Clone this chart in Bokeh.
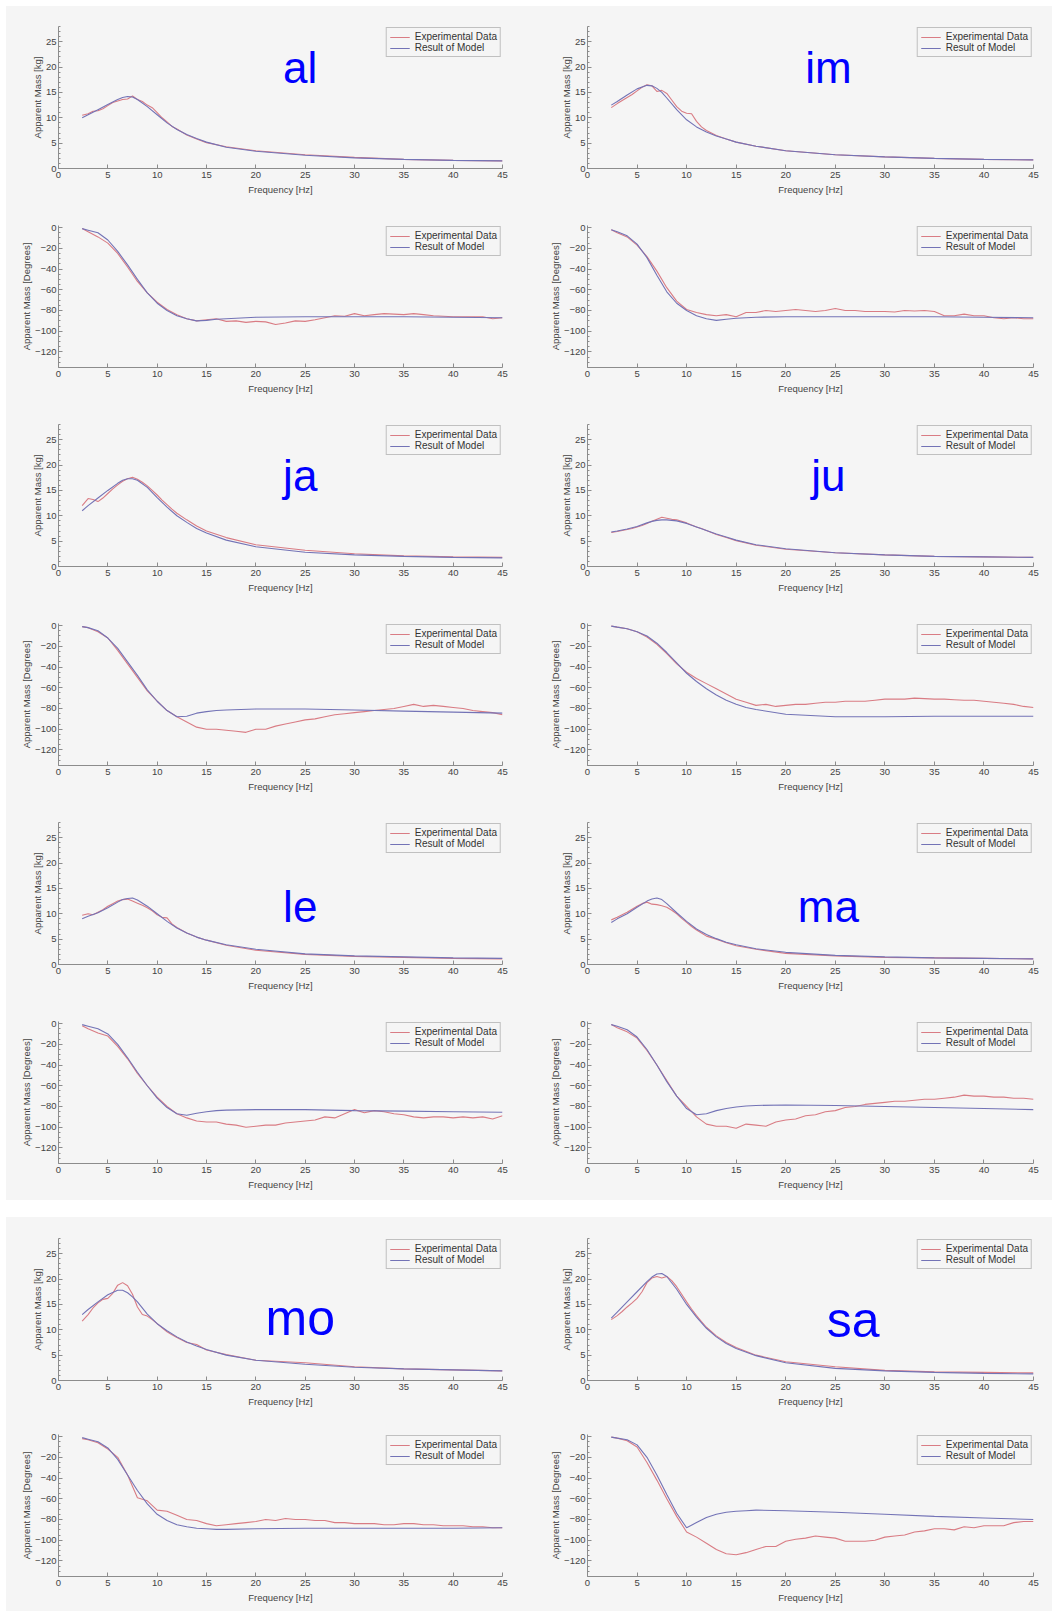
from bokeh.plotting import figure
from bokeh.models import Range1d, FixedTicker, Label, Legend, LegendItem, Spacer
from bokeh.layouts import column, row
from bokeh.embed import file_html
from bokeh.resources import INLINE

# ---------------- data ----------------
SUBJECTS = ["al", "im", "ja", "ju", "le", "ma", "mo", "sa"]

X_TICKS = [0, 5, 10, 15, 20, 25, 30, 35, 40, 45]
MAG_TICKS = [0, 5, 10, 15, 20, 25]
PHASE_TICKS = [-120, -100, -80, -60, -40, -20, 0]

MAG_MODEL_F = [2.4, 3, 4, 5, 6, 6.5, 7, 7.5, 8, 9, 10, 11, 12, 13, 14, 15, 17, 20, 25, 30, 35, 40, 45]
MAG_EXP_F = [2.4, 3, 3.5, 4, 4.5, 5, 5.5, 6, 6.5, 7, 7.5, 8, 8.5, 9, 9.5, 10, 10.5, 11, 11.5, 12,
             13, 14, 15, 17, 20, 25, 30, 35, 40, 45]
PH_MODEL_F = [2.4, 3, 4, 5, 6, 7, 8, 9, 10, 11, 12, 13, 14, 15, 16, 17, 20, 25, 30, 35, 40, 45]
PH_EXP_F = [2.4, 3, 4, 5, 6, 7, 8, 9, 10, 11, 12, 13, 14, 15, 16, 17, 18, 19, 20, 21, 22, 23, 24,
            25, 26, 27, 28, 29, 30, 31, 32, 33, 34, 35, 36, 37, 38, 39, 40, 41, 42, 43, 44, 45]

# magnitude, model
al_mag_model = [10, 10.6, 11.6, 12.6, 13.6, 14, 14.2, 14.1, 13.6, 12.2, 10.6, 9, 7.7, 6.7, 5.9, 5.2, 4.2, 3.4, 2.6, 2.1, 1.8, 1.6, 1.5]
im_mag_model = [12.5, 13.2, 14.5, 15.7, 16.4, 16.3, 15.8, 15, 13.9, 11.6, 9.6, 8.2, 7.2, 6.4, 5.8, 5.2, 4.4, 3.5, 2.7, 2.3, 2.0, 1.8, 1.7]
ja_mag_model = [11, 12, 13.5, 15, 16.4, 17, 17.3, 17.3, 17, 15.6, 13.6, 11.7, 10, 8.7, 7.5, 6.6, 5.2, 3.9, 2.8, 2.3, 2.0, 1.8, 1.7]
ju_mag_model = [6.8, 7, 7.4, 7.9, 8.6, 8.9, 9.1, 9.2, 9.2, 9.0, 8.5, 7.8, 7.1, 6.4, 5.8, 5.2, 4.3, 3.5, 2.7, 2.3, 2.0, 1.9, 1.8]
le_mag_model = [9, 9.5, 10.2, 11.2, 12.3, 12.8, 13, 13.1, 12.7, 11.5, 10, 8.5, 7.2, 6.2, 5.4, 4.8, 3.9, 3.0, 2.1, 1.7, 1.5, 1.3, 1.2]
ma_mag_model = [8.3, 9, 10, 11.3, 12.5, 12.9, 13.1, 12.8, 12, 10.2, 8.5, 7, 5.9, 5.1, 4.4, 3.9, 3.1, 2.4, 1.8, 1.5, 1.3, 1.2, 1.1]
mo_mag_model = [13, 14, 15.5, 16.9, 17.8, 17.8, 17.3, 16.5, 15.5, 13.1, 11.2, 9.8, 8.6, 7.6, 6.8, 6.1, 5, 4, 3.2, 2.6, 2.3, 2.1, 1.9]
sa_mag_model = [12.3, 13.5, 15.5, 17.5, 19.5, 20.4, 21, 21.1, 20.5, 18, 15, 12.5, 10.3, 8.6, 7.3, 6.3, 4.9, 3.5, 2.4, 1.9, 1.6, 1.4, 1.3]

# magnitude, experimental
al_mag_exp = [10.5, 10.8, 11.3, 11.4, 11.8, 12.4, 13, 13.3, 13.6, 13.7, 14.3, 13.6, 13.2, 12.5, 12, 11, 10, 9.2, 8.3, 7.8, 6.6, 5.8, 5.1, 4.3, 3.5, 2.7, 2.2, 1.8, 1.6, 1.5]
im_mag_exp = [12, 12.8, 13.4, 14, 14.6, 15.3, 16, 16.5, 16.3, 15.2, 15.4, 14.8, 13.5, 12.2, 11.3, 10.9, 10.8, 9.3, 8.2, 7.5, 6.5, 5.8, 5.2, 4.4, 3.5, 2.7, 2.3, 2.0, 1.8, 1.7]
ja_mag_exp = [12, 13.4, 13.2, 12.8, 13.5, 14.4, 15.3, 16.1, 16.8, 17.3, 17.6, 17.2, 16.6, 15.9, 15, 14.1, 13.1, 12.2, 11.3, 10.5, 9.2, 8, 7, 5.7, 4.3, 3.2, 2.5, 2.1, 1.9, 1.8]
ju_mag_exp = [6.7, 6.9, 7.1, 7.3, 7.5, 7.8, 8.1, 8.5, 8.9, 9.3, 9.7, 9.5, 9.3, 9.2, 8.9, 8.6, 8.2, 7.8, 7.5, 7.1, 6.3, 5.7, 5.1, 4.2, 3.4, 2.7, 2.3, 2.0, 1.9, 1.8]
le_mag_exp = [9.7, 10, 9.8, 10.3, 10.8, 11.5, 12, 12.5, 12.8, 12.9, 12.5, 12.1, 11.7, 11.2, 10.6, 9.8, 9.3, 9.2, 8.0, 7.3, 6.2, 5.4, 4.8, 3.8, 2.8, 2.0, 1.6, 1.4, 1.2, 1.1]
ma_mag_exp = [8.8, 9.3, 9.8, 10.3, 10.9, 11.5, 12, 12.3, 11.9, 11.8, 11.6, 11.3, 10.7, 10, 9.1, 8.3, 7.5, 6.8, 6.2, 5.6, 5.0, 4.3, 3.7, 3.0, 2.2, 1.7, 1.4, 1.3, 1.2, 1.1]
mo_mag_exp = [11.7, 13, 14.3, 15.3, 16, 16.2, 17.2, 18.8, 19.3, 18.7, 17, 14.5, 13, 12.7, 12, 11.2, 10.4, 9.6, 9.0, 8.5, 7.5, 7.1, 6, 5.1, 4.0, 3.5, 2.7, 2.3, 2.1, 1.9]
sa_mag_exp = [12, 12.8, 13.6, 14.5, 15.3, 16.2, 17.5, 19.3, 20.2, 20.5, 20.2, 20.5, 19.7, 18.5, 17, 15.5, 14.1, 12.8, 11.6, 10.5, 8.8, 7.5, 6.5, 5.0, 3.7, 2.7, 2.0, 1.7, 1.6, 1.5]

# phase, model
al_phase_model = [-1, -2.5, -5, -12, -23, -36, -50, -63, -73, -80, -85, -88, -90, -89.5, -88.5, -88, -86.5, -86, -86, -86, -86.5, -87]
im_phase_model = [-2, -4, -8, -16, -29, -46, -62, -73, -80, -85, -88, -89.5, -88.5, -87.5, -87, -86.5, -86, -86, -86, -86, -86.5, -87]
ja_phase_model = [-1, -2, -5, -12, -22, -35, -48, -62, -73, -82, -88, -87.5, -84.5, -83, -82, -81.5, -80.5, -80.5, -81.5, -82.5, -83.5, -84.5]
ju_phase_model = [-0.5, -1.5, -3, -6, -10, -17, -26, -36, -46, -54, -61, -67, -72, -76, -79, -81, -85.5, -88, -88, -87.5, -87.5, -87.5]
le_phase_model = [-1, -2.5, -5, -10, -20, -33, -47, -60, -72, -81, -87, -88.5, -86.5, -85, -84, -83.5, -83, -83, -84, -84.5, -85, -85.5]
ma_phase_model = [-1, -2.5, -6, -13, -25, -40, -56, -70, -82, -88, -87, -84, -82, -80.5, -79.5, -79, -78.5, -79, -80, -81, -82, -83]
mo_phase_model = [-1, -2.5, -5, -11, -22, -37, -52, -65, -75, -81, -85, -87, -88.5, -89, -89.5, -89.5, -89, -88.5, -88.5, -88.5, -88.5, -88]
sa_phase_model = [-0.5, -1.5, -3, -8, -20, -37, -56, -74, -88, -83, -78, -75, -73, -72, -71.5, -71, -71.5, -73, -75, -77, -78.5, -80]

# phase, experimental
al_phase_exp = [-1, -4, -9, -15, -25, -38, -52, -63, -72, -79, -84, -88, -90, -89, -88, -90.5, -90, -91.5, -90.5, -91, -93.5, -92, -90, -90.5, -89, -87, -85, -85.5, -83, -85, -84, -83, -83.5, -84, -83, -84, -85, -85.5, -86, -86, -86, -86, -88, -87]
im_phase_exp = [-2, -5, -9, -17, -28, -42, -58, -71, -79, -82, -84, -85, -84, -86, -82, -82, -80, -81, -80, -79, -80, -81, -80, -78, -80, -80, -81, -81, -81, -81.5, -80, -80.5, -80, -81, -85, -85, -83.5, -85, -85, -87, -88, -87, -88, -88]
ja_phase_exp = [-1, -2, -6, -12, -24, -37, -50, -63, -73, -82, -88, -93, -98, -100, -100, -101, -102, -103, -100, -100, -97, -95, -93, -91, -90, -88, -86, -85, -84, -83, -82, -81, -80, -78, -76, -78, -77, -78, -79, -80, -82, -83, -84, -86]
ju_phase_exp = [-0.5, -1.5, -3, -6, -11, -18, -27, -37, -45, -51, -56, -61, -66, -71, -74, -77, -76, -78, -77, -76, -76, -75, -74, -74, -73, -73, -73, -72, -71, -71, -71, -70, -70.5, -71, -71, -71.5, -72, -72, -73, -74, -75, -76, -78, -79]
le_phase_exp = [-2, -5, -9, -12, -22, -34, -48, -60, -71, -80, -87, -91, -94, -95, -95, -97, -98, -100, -99, -98, -98, -96, -95, -94, -93, -90, -91, -87, -83, -86, -84, -85, -87, -88, -90, -91, -90, -90, -91, -90, -91, -90, -92, -89]
ma_phase_exp = [-1, -4, -8, -14, -26, -40, -55, -70, -80, -90, -97, -99, -99, -101, -97, -98, -99, -95, -93, -92, -89, -88, -85, -84, -81, -80, -78, -77, -76, -75, -75, -74, -73, -73, -72, -71, -69, -70, -70, -71, -71, -72, -72, -73]
mo_phase_exp = [-2, -3, -6, -12, -20, -37, -59, -62, -71, -72, -76, -80, -81, -84, -86, -85, -84, -83, -82, -80, -81, -79, -80, -80, -81, -81, -83, -83, -84, -84, -84, -85, -85, -84, -84, -85, -85, -86, -86, -86, -87, -87, -88, -88]
sa_phase_exp = [-0.5, -1.5, -4, -10, -25, -42, -60, -77, -92, -97, -103, -109, -113, -114, -112, -109, -106, -106, -101, -99, -98, -96, -97, -98, -101, -101, -101, -100, -97, -96, -95, -92, -91, -89, -89, -90, -87, -88, -86, -86, -86, -83, -82, -82]

DATA = {
    "al": (al_mag_exp, al_mag_model, al_phase_exp, al_phase_model),
    "im": (im_mag_exp, im_mag_model, im_phase_exp, im_phase_model),
    "ja": (ja_mag_exp, ja_mag_model, ja_phase_exp, ja_phase_model),
    "ju": (ju_mag_exp, ju_mag_model, ju_phase_exp, ju_phase_model),
    "le": (le_mag_exp, le_mag_model, le_phase_exp, le_phase_model),
    "ma": (ma_mag_exp, ma_mag_model, ma_phase_exp, ma_phase_model),
    "mo": (mo_mag_exp, mo_mag_model, mo_phase_exp, mo_phase_model),
    "sa": (sa_mag_exp, sa_mag_model, sa_phase_exp, sa_phase_model),
}

# ---------------- styling ----------------
BG = "#f5f5f5"
EXP_COLOR = "#d97c84"
MODEL_COLOR = "#7373b6"
AXIS_COLOR = "#8c8c8c"
FONT = "Liberation Sans"

LABEL_POS = {  # big subject label position in data units of the magnitude plot
    "al": (24.5, 20.0, "44px"), "im": (24.3, 20.0, "44px"),
    "ja": (24.5, 18.0, "44px"), "ju": (24.3, 18.0, "44px"),
    "le": (24.5, 11.5, "44px"), "ma": (24.3, 11.5, "44px"),
    "mo": (24.5, 12.3, "50px"), "sa": (26.8, 11.9, "50px"),
}

CELL_W = 523


def make_fig(subj, kind, col, height, top, bottom):
    left = 52 if col == 0 else 58
    right = 27 if col == 0 else 19
    if kind == "mag":
        yr = Range1d(0, 28)
        ylab = "Apparent Mass [kg]"
        yticks = MAG_TICKS
        minor = list(range(0, 29))
    else:
        yr = Range1d(-135, 2)
        ylab = "Apparent Mass [Degrees]"
        yticks = PHASE_TICKS
        minor = list(range(-135, 1, 5))
    p = figure(width=CELL_W, height=height, output_backend="svg", toolbar_location=None,
               x_range=Range1d(0, 45), y_range=yr,
               min_border_left=left, min_border_right=right,
               min_border_top=top, min_border_bottom=bottom,
               background_fill_color=BG, border_fill_color=BG, outline_line_color=None)
    p.grid.visible = False
    p.xaxis.ticker = FixedTicker(ticks=X_TICKS)
    p.yaxis.ticker = FixedTicker(ticks=yticks, minor_ticks=minor)
    p.xaxis.axis_label = "Frequency [Hz]"
    p.yaxis.axis_label = ylab
    for ax in (p.xaxis, p.yaxis):
        ax.axis_line_color = AXIS_COLOR
        ax.major_tick_line_color = AXIS_COLOR
        ax.minor_tick_line_color = AXIS_COLOR
        ax.major_tick_in = 4
        ax.major_tick_out = 0
        ax.minor_tick_in = 2
        ax.minor_tick_out = 0
        ax.major_label_text_font = FONT
        ax.major_label_text_font_size = "9.5px"
        ax.major_label_text_color = "#444444"
        ax.axis_label_text_font = FONT
        ax.axis_label_text_font_size = "9.5px"
        ax.axis_label_text_font_style = "normal"
        ax.axis_label_text_color = "#444444"
        ax.major_label_standoff = 3
        ax.axis_label_standoff = 3
    p.xaxis.minor_tick_line_color = None
    p.yaxis.major_label_standoff = 2
    p.yaxis.axis_label_standoff = 0

    mexp, mmod, pexp, pmod = DATA[subj]
    if kind == "mag":
        r1 = p.line(MAG_EXP_F, mexp, color=EXP_COLOR, line_width=1.1)
        r2 = p.line(MAG_MODEL_F, mmod, color=MODEL_COLOR, line_width=1.1)
        lx, ly, fs = LABEL_POS[subj]
        p.add_layout(Label(x=lx, y=ly, text=subj, text_color="#0000ff", text_font=FONT,
                           text_font_size=fs, text_align="center", text_baseline="middle"))
    else:
        r1 = p.line(PH_EXP_F, pexp, color=EXP_COLOR, line_width=1.1)
        r2 = p.line(PH_MODEL_F, pmod, color=MODEL_COLOR, line_width=1.1)

    legend = Legend(items=[LegendItem(label="Experimental Data", renderers=[r1]),
                           LegendItem(label="Result of Model", renderers=[r2])],
                    location="top_right", margin=1, padding=3, spacing=0,
                    label_text_font=FONT, label_text_font_size="10px", label_text_color="#333333",
                    label_height=10, glyph_height=10, glyph_width=20, label_standoff=5,
                    border_line_color="#8c8c8c", border_line_width=1,
                    background_fill_color=BG, background_fill_alpha=1.0)
    p.add_layout(legend)
    return p


GRAY = {"background-color": BG}

rows_block1 = []
pairs = [("al", "im"), ("ja", "ju"), ("le", "ma")]
for a, b in pairs:
    for kind in ("mag", "phase"):
        rows_block1.append(row(make_fig(a, kind, 0, 199, 20, 37),
                               make_fig(b, kind, 1, 199, 20, 37), styles=GRAY))

rows_block2 = [
    row(make_fig("mo", "mag", 0, 198, 21, 35), make_fig("sa", "mag", 1, 198, 21, 35), styles=GRAY),
    row(make_fig("mo", "phase", 0, 196, 19, 35), make_fig("sa", "phase", 1, 196, 19, 35), styles=GRAY),
]

block1 = column(*rows_block1, styles=GRAY)
block2 = column(*rows_block2, styles=GRAY)
inner = column(Spacer(width=2 * CELL_W, height=6), block1,
               Spacer(width=2 * CELL_W, height=17), block2)
layout = row(Spacer(width=6, height=10), inner)

open("out.html", "w").write(file_html(layout, INLINE))
